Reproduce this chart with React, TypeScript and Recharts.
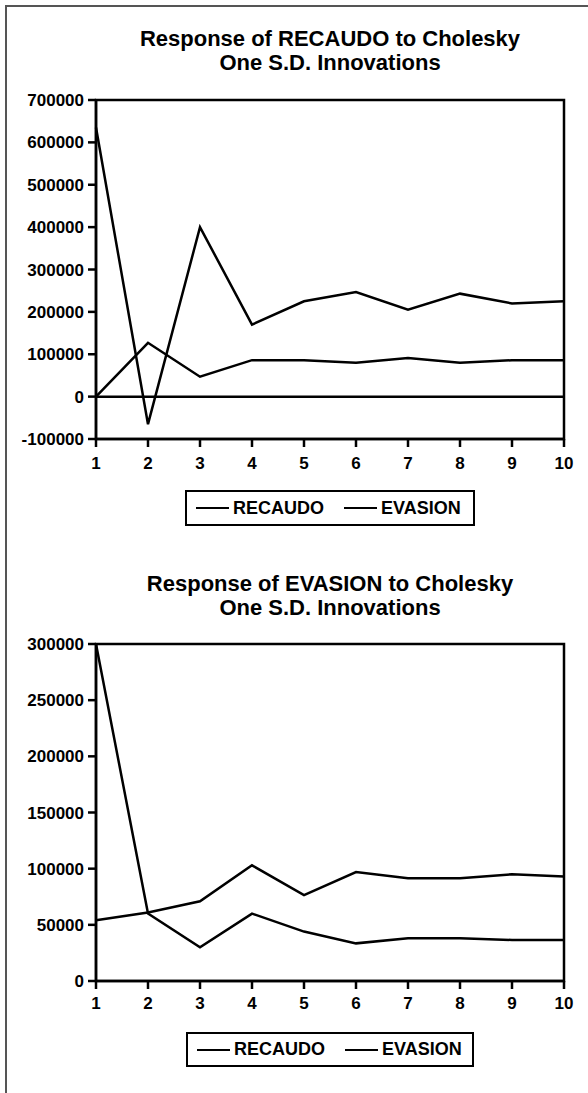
import React from 'react';
import { LineChart, Line, XAxis, YAxis, ReferenceLine, ReferenceArea, Legend } from 'recharts';

const periods = [1, 2, 3, 4, 5, 6, 7, 8, 9, 10];
const recaudoOnRecaudo = [635000, -65000, 400000, 170000, 225000, 247000, 205000, 243000, 220000, 225000];
const evasionOnRecaudo = [0, 127000, 47000, 86000, 86000, 80000, 91000, 80000, 86000, 86000];
const recaudoOnEvasion = [300000, 60000, 30000, 60000, 44000, 33500, 38000, 38000, 36500, 36500];
const evasionOnEvasion = [54000, 61000, 71000, 103000, 76500, 97000, 91500, 91500, 95000, 93000];

const ticksTop = [-100000, 0, 100000, 200000, 300000, 400000, 500000, 600000, 700000];
const ticksBottom = [0, 50000, 100000, 150000, 200000, 250000, 300000];
const seriesNames = ['RECAUDO', 'EVASION'];
const titleTop = ['Response of RECAUDO to Cholesky', 'One S.D. Innovations'];
const titleBottom = ['Response of EVASION to Cholesky', 'One S.D. Innovations'];

const dataTop = periods.map((p, i) => ({ p, RECAUDO: recaudoOnRecaudo[i], EVASION: evasionOnRecaudo[i] }));
const dataBottom = periods.map((p, i) => ({ p, RECAUDO: recaudoOnEvasion[i], EVASION: evasionOnEvasion[i] }));

const FONT = '"Liberation Sans", Arial, sans-serif';
const tickStyle = { fontSize: 17, fontWeight: 'bold', fill: '#000', fontFamily: FONT };

const LegendBox = () => (
  <div
    style={{
      boxSizing: 'border-box',
      width: '100%',
      height: '100%',
      border: '2px solid #000',
      display: 'flex',
      alignItems: 'center',
      paddingLeft: 9,
      fontFamily: FONT,
      fontWeight: 'bold',
      fontSize: 18,
      color: '#000',
    }}
  >
    {seriesNames.map((n, i) => (
      <div key={n} style={{ display: 'flex', alignItems: 'center', marginRight: i === 0 ? 20 : 0 }}>
        <div style={{ width: 33, height: 0, borderTop: '2px solid #000', marginRight: 4 }} />
        <span>{n}</span>
      </div>
    ))}
  </div>
);

const Title = ({ lines, top }: { lines: string[]; top: number }) => (
  <div
    style={{
      position: 'absolute',
      left: 96,
      width: 468,
      top,
      textAlign: 'center',
      fontFamily: FONT,
      fontWeight: 'bold',
      fontSize: 22,
      lineHeight: '24px',
      color: '#000',
      whiteSpace: 'nowrap',
    }}
  >
    {lines.map((l) => (
      <div key={l}>{l}</div>
    ))}
  </div>
);

type PanelProps = {
  data: any[];
  ticks: number[];
  domain: [number, number];
  height: number;
  marginTop: number;
  marginBottom: number;
  legendTop: number;
  legendLeft: number;
  legendWidth: number;
  legendHeight: number;
  zeroLine: boolean;
  xTickMargin: number;
};

const Panel = (props: PanelProps) => (
  <LineChart
    width={588}
    height={props.height}
    data={props.data}
    margin={{ top: props.marginTop, right: 24, left: 0, bottom: props.marginBottom }}
  >
    <XAxis
      dataKey="p"
      type="number"
      domain={[1, 10]}
      ticks={periods}
      tick={tickStyle}
      tickSize={8}
      tickMargin={props.xTickMargin}
      height={30}
      axisLine={{ stroke: '#000', strokeWidth: 2.5 }}
      tickLine={{ stroke: '#000', strokeWidth: 2.5 }}
      interval={0}
    />
    <YAxis
      type="number"
      domain={props.domain}
      ticks={props.ticks}
      tick={tickStyle}
      tickSize={8}
      tickMargin={4}
      width={96}
      axisLine={{ stroke: '#000', strokeWidth: 2.5 }}
      tickLine={{ stroke: '#000', strokeWidth: 2.5 }}
      interval={0}
      allowDataOverflow
    />
    <ReferenceArea
      x1={1}
      x2={10}
      y1={props.domain[0]}
      y2={props.domain[1]}
      fill="none"
      fillOpacity={0}
      stroke="#000"
      strokeWidth={2.5}
      ifOverflow="visible"
    />
    {props.zeroLine && <ReferenceLine y={0} stroke="#000" strokeWidth={2.5} />}
    <Line type="linear" dataKey="RECAUDO" stroke="#000" strokeWidth={2.5} dot={false} isAnimationActive={false} />
    <Line type="linear" dataKey="EVASION" stroke="#000" strokeWidth={2.5} dot={false} isAnimationActive={false} />
    <Legend
      layout="horizontal"
      verticalAlign="middle"
      align="center"
      content={() => <LegendBox />}
      wrapperStyle={{
        left: props.legendLeft,
        top: props.legendTop,
        width: props.legendWidth,
        height: props.legendHeight,
      }}
    />
  </LineChart>
);

export default function App() {
  return (
    <div style={{ position: 'absolute', left: 0, top: 0, width: 588, height: 1093, background: '#fff', overflow: 'hidden' }}>
      <div
        style={{
          position: 'absolute',
          left: 5,
          top: 5,
          width: 600,
          height: 1200,
          borderTop: '2px solid #555',
          borderLeft: '2px solid #555',
        }}
      />
      <Title lines={titleTop} top={27} />
      <div style={{ position: 'absolute', left: 0, top: 0 }}>
        <Panel
          data={dataTop}
          ticks={ticksTop}
          domain={[-100000, 700000]}
          height={546}
          marginTop={100}
          marginBottom={77}
          legendTop={490}
          legendLeft={185}
          legendWidth={290}
          legendHeight={36}
          zeroLine
          xTickMargin={10}
        />
      </div>
      <Title lines={titleBottom} top={572} />
      <div style={{ position: 'absolute', left: 0, top: 546 }}>
        <Panel
          data={dataBottom}
          ticks={ticksBottom}
          domain={[0, 300000]}
          height={547}
          marginTop={98}
          marginBottom={82}
          legendTop={486}
          legendLeft={186}
          legendWidth={288}
          legendHeight={35}
          zeroLine={false}
          xTickMargin={8}
        />
      </div>
    </div>
  );
}
